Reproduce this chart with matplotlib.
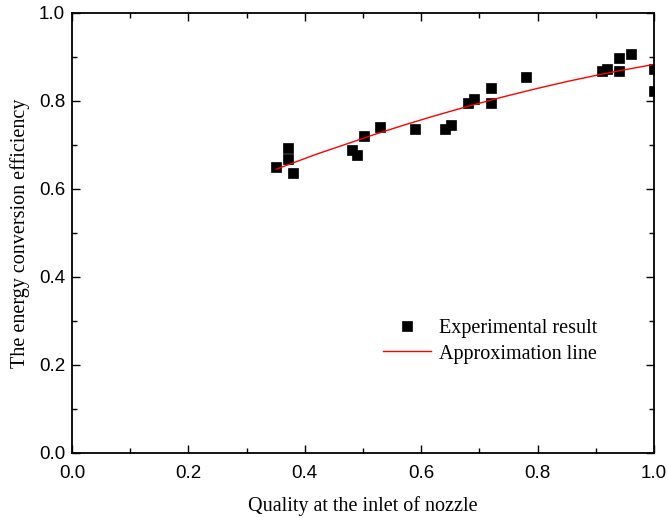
import matplotlib
matplotlib.use('Agg')
import matplotlib.pyplot as plt
from matplotlib.ticker import MultipleLocator

# experimental points (quality, efficiency)
quality = [0.351, 0.371, 0.371, 0.380, 0.481, 0.490, 0.502, 0.530, 0.590,
           0.641, 0.651, 0.680, 0.690, 0.720, 0.720, 0.780, 0.911, 0.920,
           0.940, 0.940, 0.960, 1.000, 1.000]
efficiency = [0.650, 0.693, 0.667, 0.636, 0.689, 0.677, 0.721, 0.741, 0.737,
              0.736, 0.745, 0.795, 0.805, 0.795, 0.830, 0.855, 0.868, 0.873,
              0.897, 0.867, 0.906, 0.873, 0.823]

# approximation line
fit_x = [0.351, 0.420, 0.478, 0.520, 0.570, 0.620, 0.678, 0.740, 0.798,
         0.850, 0.907, 0.950, 1.000]
fit_y = [0.645, 0.679, 0.705, 0.724, 0.745, 0.765, 0.787, 0.809, 0.828,
         0.844, 0.860, 0.871, 0.883]

serif = 'Liberation Serif'
sans = 'Liberation Sans'

fig = plt.figure(figsize=(6.68, 5.18), dpi=100)
ax = fig.add_axes([0.1078, 0.1255, 0.8712, 0.8495])

ax.plot(quality, efficiency, 's', color='black', markersize=7.8,
        markeredgewidth=0.5, label='Experimental result')
ax.plot(fit_x, fit_y, '-', color='red', linewidth=1.0,
        label='Approximation line')

ax.set_xlim(0, 1.0)
ax.set_ylim(0, 1.0)
ax.xaxis.set_major_locator(MultipleLocator(0.2))
ax.xaxis.set_minor_locator(MultipleLocator(0.1))
ax.yaxis.set_major_locator(MultipleLocator(0.2))
ax.yaxis.set_minor_locator(MultipleLocator(0.1))
ax.tick_params(which='both', direction='in', top=True, right=True, width=1.0)
ax.tick_params(which='major', length=6)
ax.tick_params(which='minor', length=3.5)
ax.tick_params(axis='x', pad=9)
ax.tick_params(axis='y', pad=5)
for lab in ax.get_xticklabels() + ax.get_yticklabels():
    lab.set_fontfamily(sans)
    lab.set_fontsize(13.5)
for sp in ax.spines.values():
    sp.set_linewidth(1.3)

ax.set_xlabel('Quality at the inlet of nozzle', fontfamily=serif,
              fontsize=14.5, labelpad=10)
ax.set_ylabel('The energy conversion efficiency', fontfamily=serif,
              fontsize=14.5, labelpad=6)

ax.legend(loc='upper left', bbox_to_anchor=(0.503, 0.345), frameon=False,
          prop={'family': serif, 'size': 14.5}, handlelength=2.4,
          handletextpad=0.4, labelspacing=0.3)

fig.savefig('out.png', dpi=100)
